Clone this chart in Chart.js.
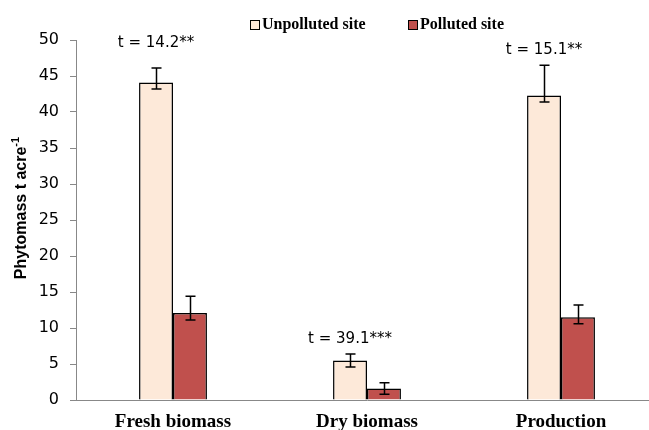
<!DOCTYPE html>
<html>
<head>
<meta charset="utf-8">
<script src="https://cdn.jsdelivr.net/npm/chart.js@4"></script>
<style>
  html, body { margin: 0; padding: 0; background: #fff; overflow: hidden; }
  #wrap { width: 660px; height: 430px; }
</style>
</head>
<body>
<div id="wrap"><canvas id="myChart" width="660" height="430"></canvas></div>
<script>
const categories = ['Fresh biomass', 'Dry biomass', 'Production'];
const seriesNames = ['Unpolluted site', 'Polluted site'];
const unpolluted = [44.1, 5.5, 42.3];
const polluted = [12.1, 1.6, 11.5];
// error bar ends (low, high)
const unpollutedLow = [43.2, 4.6, 41.4];
const unpollutedHigh = [46.1, 6.4, 46.5];
const pollutedLow = [11.1, 0.8, 10.6];
const pollutedHigh = [14.4, 2.4, 13.2];
const tLabels = ['t = 14.2**', 't = 39.1***', 't = 15.1**'];
const tLabelY = [49.6, 8.5, 48.6];
const yTitle = 'Phytomass t acre';
const yTitleSup = '-1';

const errorBars = {
    id: 'errorBars',
    afterDatasetsDraw(chart) {
        const ctx = chart.ctx;
        const y = chart.scales.y;
        const ends = [[unpollutedLow, unpollutedHigh], [pollutedLow, pollutedHigh]];
        ctx.save();
        ctx.strokeStyle = '#000';
        ctx.lineWidth = 1.5;
        ends.forEach((pair, d) => {
            chart.getDatasetMeta(d).data.forEach((bar, i) => {
                const x = Math.round(bar.x) + 0.5;
                const lo = y.getPixelForValue(pair[0][i]);
                const hi = y.getPixelForValue(pair[1][i]);
                ctx.beginPath();
                ctx.moveTo(x, lo); ctx.lineTo(x, hi);
                ctx.moveTo(x - 5, lo); ctx.lineTo(x + 5, lo);
                ctx.moveTo(x - 5, hi); ctx.lineTo(x + 5, hi);
                ctx.stroke();
            });
        });
        // t-test labels above the unpolluted bars
        ctx.fillStyle = '#000';
        ctx.font = '15px "DejaVu Sans"';
        ctx.textAlign = 'center';
        ctx.textBaseline = 'middle';
        chart.getDatasetMeta(0).data.forEach((bar, i) => {
            ctx.fillText(tLabels[i], bar.x, y.getPixelForValue(tLabelY[i]));
        });
        // legend
        ctx.font = 'bold 16px "Liberation Serif"';
        ctx.textAlign = 'left';
        ctx.textBaseline = 'alphabetic';
        const items = [[250, seriesNames[0], '#FDE9D9'], [408, seriesNames[1], '#C0504D']];
        items.forEach(([lx, name, col]) => {
            ctx.fillStyle = col;
            ctx.fillRect(lx, 20, 9, 9);
            ctx.lineWidth = 1;
            ctx.strokeStyle = '#000';
            ctx.strokeRect(lx + 0.5, 20.5, 9, 9);
            ctx.fillStyle = '#000';
            ctx.fillText(name, lx + 12, 29);
        });
        // y axis title with superscript
        ctx.translate(26, 208);
        ctx.rotate(-Math.PI / 2);
        ctx.font = 'bold 16px "Liberation Sans"';
        const w1 = ctx.measureText(yTitle).width;
        ctx.font = 'bold 11px "Liberation Sans"';
        const w2 = ctx.measureText(yTitleSup).width;
        const x0 = -(w1 + w2) / 2;
        ctx.font = 'bold 16px "Liberation Sans"';
        ctx.fillText(yTitle, x0, 0);
        ctx.font = 'bold 11px "Liberation Sans"';
        ctx.fillText(yTitleSup, x0 + w1, -7);
        ctx.restore();
    }
};

const ctx = document.getElementById('myChart').getContext('2d');
new Chart(ctx, {
    type: 'bar',
    data: {
        labels: categories,
        datasets: [{
            label: seriesNames[0],
            data: unpolluted,
            backgroundColor: '#FDE9D9',
            borderColor: '#000',
            borderWidth: 1.5
        }, {
            label: seriesNames[1],
            data: polluted,
            backgroundColor: '#C0504D',
            borderColor: '#000',
            borderWidth: 1.5
        }]
    },
    options: {
        responsive: false,
        animation: false,
        categoryPercentage: 0.35,
        barPercentage: 1,
        layout: { padding: { top: 40, bottom: 0, left: 0, right: 2 } },
        plugins: { legend: { display: false }, tooltip: { enabled: false } },
        scales: {
            x: {
                afterFit(scale) { scale.height = 30; },
                grid: { display: false },
                border: { color: '#888', width: 1 },
                ticks: { color: '#000', font: { family: 'Liberation Serif', size: 19, weight: 'bold' }, padding: 3 }
            },
            y: {
                min: 0, max: 50,
                afterFit(scale) { scale.width = 76; },
                grid: { drawOnChartArea: false, drawTicks: true, tickLength: 6, color: '#888' },
                border: { color: '#888', width: 1 },
                ticks: { stepSize: 5, color: '#000', font: { family: 'DejaVu Sans', size: 16 }, padding: 11 }
            }
        }
    },
    plugins: [errorBars]
});
</script>
</body>
</html>
